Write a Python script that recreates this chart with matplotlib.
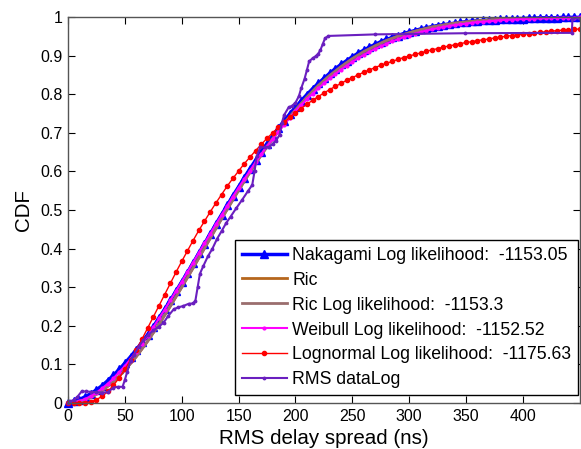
import matplotlib
matplotlib.use("Agg")
import matplotlib.pyplot as plt


# ------------------------------------------------------
# DATA
# ------------------------------------------------------

# delay grid of the fitted CDFs (ns)
fit_x = [0, 5, 10, 15, 20, 25, 30, 35, 40, 45, 50, 55, 60, 65, 70, 75, 80,
         85, 90, 95, 100, 105, 110, 115, 120, 125, 130, 135, 140, 145, 150,
         155, 160, 165, 170, 175, 180, 185, 190, 195, 200, 205, 210, 215,
         220, 225, 230, 235, 240, 245, 250, 255, 260, 265, 270, 275, 280,
         285, 290, 295, 300, 305, 310, 315, 320, 325, 330, 335, 340, 345,
         350, 355, 360, 365, 370, 375, 380, 385, 390, 395, 400, 405, 410,
         415, 420, 425, 430, 435, 440, 445, 450]

nakagami_cdf = [0.000, 0.004, 0.009, 0.016, 0.024, 0.034, 0.045, 0.058, 0.072,
                0.087, 0.103, 0.120, 0.138, 0.157, 0.177, 0.198, 0.220, 0.243,
                0.266, 0.290, 0.314, 0.338, 0.363, 0.388, 0.413, 0.438, 0.463,
                0.488, 0.512, 0.537, 0.560, 0.584, 0.607, 0.629, 0.651, 0.672,
                0.692, 0.712, 0.731, 0.749, 0.766, 0.783, 0.799, 0.814, 0.828,
                0.841, 0.854, 0.866, 0.877, 0.887, 0.897, 0.906, 0.914, 0.922,
                0.929, 0.936, 0.942, 0.947, 0.952, 0.957, 0.961, 0.965, 0.969,
                0.972, 0.975, 0.978, 0.980, 0.982, 0.984, 0.986, 0.988, 0.989,
                0.990, 0.991, 0.992, 0.993, 0.994, 0.995, 0.995, 0.996, 0.996,
                0.997, 0.997, 0.998, 0.998, 0.998, 0.998, 0.999, 0.999, 0.999,
                0.999]

weibull_cdf = [0.000, 0.001, 0.005, 0.010, 0.018, 0.027, 0.038, 0.050, 0.064,
               0.080, 0.096, 0.114, 0.133, 0.153, 0.174, 0.196, 0.219, 0.242,
               0.266, 0.290, 0.314, 0.339, 0.364, 0.389, 0.414, 0.438, 0.463,
               0.487, 0.511, 0.535, 0.558, 0.580, 0.602, 0.624, 0.645, 0.665,
               0.684, 0.703, 0.721, 0.739, 0.756, 0.772, 0.787, 0.801, 0.815,
               0.828, 0.841, 0.852, 0.864, 0.874, 0.884, 0.893, 0.902, 0.910,
               0.917, 0.924, 0.931, 0.937, 0.942, 0.948, 0.952, 0.957, 0.961,
               0.965, 0.968, 0.971, 0.974, 0.977, 0.979, 0.981, 0.983, 0.985,
               0.987, 0.988, 0.989, 0.990, 0.992, 0.993, 0.993, 0.994, 0.995,
               0.995, 0.996, 0.997, 0.997, 0.997, 0.998, 0.998, 0.998, 0.998,
               0.999]

lognormal_cdf = [0.000, 0.000, 0.000, 0.001, 0.003, 0.009, 0.017, 0.030, 0.046,
                 0.065, 0.087, 0.111, 0.138, 0.165, 0.194, 0.223, 0.252, 0.281,
                 0.310, 0.339, 0.367, 0.394, 0.421, 0.447, 0.471, 0.495, 0.518,
                 0.540, 0.562, 0.582, 0.601, 0.620, 0.637, 0.654, 0.670, 0.686,
                 0.700, 0.714, 0.727, 0.740, 0.752, 0.763, 0.774, 0.784, 0.794,
                 0.803, 0.812, 0.820, 0.828, 0.836, 0.843, 0.850, 0.857, 0.863,
                 0.869, 0.875, 0.880, 0.885, 0.890, 0.895, 0.899, 0.903, 0.907,
                 0.911, 0.915, 0.918, 0.922, 0.925, 0.928, 0.931, 0.934, 0.936,
                 0.939, 0.941, 0.943, 0.946, 0.948, 0.950, 0.952, 0.954, 0.955,
                 0.957, 0.959, 0.960, 0.962, 0.963, 0.965, 0.966, 0.967, 0.968,
                 0.969]

# Rician fit has no markers, coarser grid
rice_x = [0, 10, 20, 30, 40, 50, 60, 70, 80, 90, 100, 110, 120, 130, 140, 150,
          160, 170, 180, 190, 200, 210, 220, 230, 240, 250, 260, 270, 280, 290,
          300, 310, 320, 330, 340, 350, 360, 370, 380, 390, 400, 410, 420, 430,
          440, 450]
rice_cdf = [0.000, 0.004, 0.014, 0.032, 0.055, 0.085, 0.120, 0.160, 0.204,
            0.251, 0.300, 0.350, 0.401, 0.452, 0.502, 0.551, 0.598, 0.643,
            0.685, 0.724, 0.759, 0.792, 0.822, 0.848, 0.871, 0.892, 0.910,
            0.925, 0.939, 0.950, 0.959, 0.967, 0.974, 0.979, 0.984, 0.987,
            0.990, 0.992, 0.994, 0.996, 0.997, 0.998, 0.998, 0.999, 0.999,
            0.999]

# empirical CDF of the measured RMS delay spread
rms_x = [0, 2, 5, 8, 12, 16, 20, 25, 30, 35, 40, 44, 48, 50, 52, 55, 58, 62,
         66, 70, 75, 80, 84, 88, 93, 97, 101, 106, 110, 112, 114, 116, 119,
         123, 127, 131, 135, 139, 143, 148, 153, 158, 162, 164, 166, 169, 173,
         177, 180, 183, 186, 188, 190, 194, 197, 200, 203, 205, 208, 210, 212,
         215, 218, 220, 222, 224, 226, 229, 270, 349, 443, 443.5, 449]
rms_cdf = [0.000, 0.004, 0.008, 0.015, 0.030, 0.030, 0.029, 0.028, 0.027,
           0.028, 0.040, 0.042, 0.042, 0.060, 0.080, 0.110, 0.125, 0.145,
           0.162, 0.175, 0.188, 0.198, 0.208, 0.225, 0.243, 0.248, 0.251,
           0.257, 0.258, 0.265, 0.300, 0.335, 0.355, 0.380, 0.400, 0.425,
           0.445, 0.466, 0.483, 0.505, 0.526, 0.548, 0.565, 0.600, 0.640,
           0.662, 0.663, 0.664, 0.672, 0.680, 0.695, 0.725, 0.746, 0.766,
           0.770, 0.778, 0.795, 0.815, 0.840, 0.862, 0.885, 0.893, 0.899,
           0.905, 0.915, 0.930, 0.945, 0.951, 0.955, 0.958, 0.959, 0.995,
           0.997]

labels = [
    "Nakagami Log likelihood:  -1153.05",
    "Ric",
    "Ric Log likelihood:  -1153.3",
    "Weibull Log likelihood:  -1152.52",
    "Lognormal Log likelihood:  -1175.63",
    "RMS dataLog",
]


# ------------------------------------------------------
# PLOT
# ------------------------------------------------------

plt.rcParams["font.family"] = ["Liberation Sans", "DejaVu Sans"]

fig = plt.figure(figsize=(5.81, 4.49), dpi=100)
ax = fig.add_axes([0.117, 0.1024, 0.881, 0.8597])

ax.plot(fit_x, nakagami_cdf, color="#0000ff", lw=2.5, marker="^", ms=6,
        mfc="#0000ff", mec="#0000ff", clip_on=False, label=labels[0])
ax.plot(rice_x, rice_cdf, color="#b5661d", lw=2, label=labels[1])
ax.plot(rice_x, rice_cdf, color="#9a6e6e", lw=2, label=labels[2])
ax.plot(fit_x, weibull_cdf, color="#ff00ff", lw=1.5, marker=".", ms=4,
        clip_on=False, label=labels[3])
ax.plot(fit_x, lognormal_cdf, color="#ff0000", lw=1, marker=".", ms=6,
        clip_on=False, label=labels[4])
ax.plot(rms_x, rms_cdf, color="#6a1fbf", lw=1.5, marker=".", ms=3.5,
        clip_on=False, label=labels[5])

ax.set_xlim(0, 450)
ax.set_ylim(0, 1)
ax.set_xticks([0, 50, 100, 150, 200, 250, 300, 350, 400])
ax.set_yticks([0, 0.1, 0.2, 0.3, 0.4, 0.5, 0.6, 0.7, 0.8, 0.9, 1])
ax.set_yticklabels(["0", "0.1", "0.2", "0.3", "0.4", "0.5", "0.6", "0.7",
                    "0.8", "0.9", "1"])
ax.tick_params(direction="in", top=True, right=True, length=5, width=0.8,
               labelsize=11.5, colors="#000000", pad=4)
for sp in ax.spines.values():
    sp.set_color("#555555")
    sp.set_linewidth(1)

ax.set_xlabel("RMS delay spread (ns)", fontsize=14.8, labelpad=4)
ax.set_ylabel("CDF", fontsize=14.8, labelpad=5)

leg = ax.legend(loc="lower right", bbox_to_anchor=(0.996, 0.021),
                borderaxespad=0, fontsize=12.7, fancybox=False,
                edgecolor="#000000", framealpha=1, handlelength=2.55,
                handletextpad=0.3, labelspacing=0.45, borderpad=0.37)
leg.get_frame().set_linewidth(1)

fig.savefig("out.png", dpi=100)
